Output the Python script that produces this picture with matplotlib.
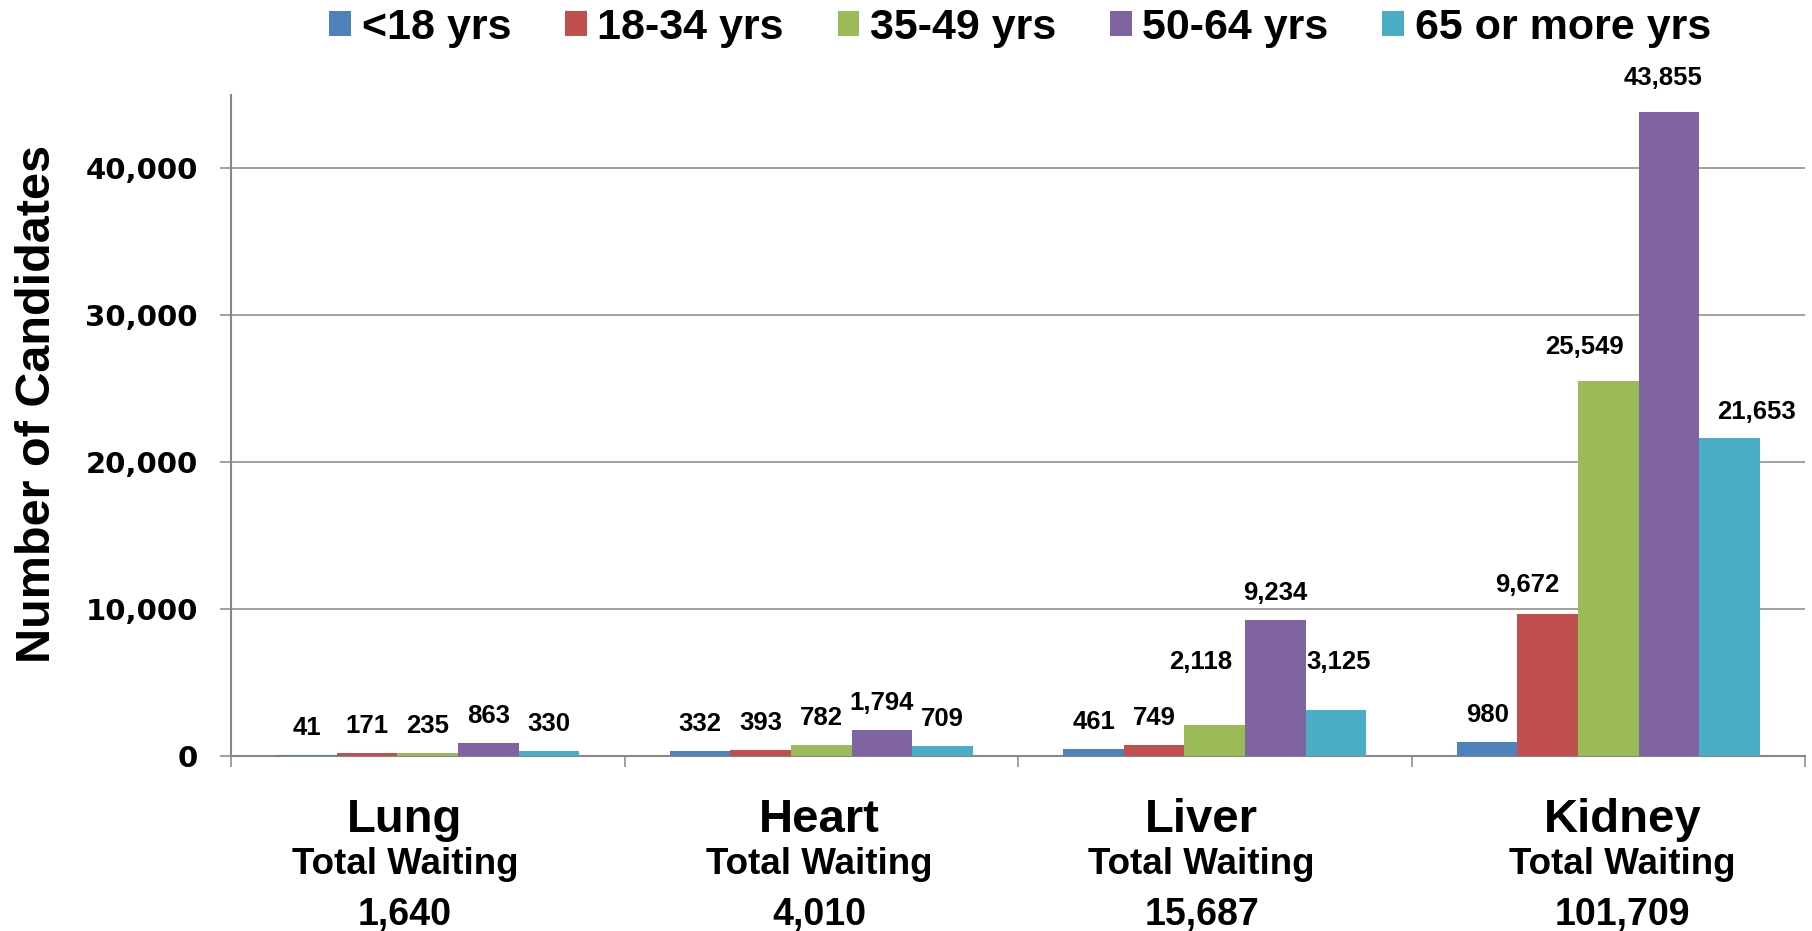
import numpy as np
import matplotlib
matplotlib.use("Agg")
import matplotlib.pyplot as plt

plt.rcParams['font.family'] = ['Liberation Sans', 'DejaVu Sans']
plt.rcParams['font.weight'] = 'bold'

# Daten
organs = ["Lung", "Heart", "Liver", "Kidney"]
age_groups = ["<18 yrs", "18-34 yrs", "35-49 yrs", "50-64 yrs", "65 or more yrs"]
under_18 = [41, 332, 461, 980]
age_18_34 = [171, 393, 749, 9672]
age_35_49 = [235, 782, 2118, 25549]
age_50_64 = [863, 1794, 9234, 43855]
age_65_up = [330, 709, 3125, 21653]
y_ticks = [0, 10000, 20000, 30000, 40000]

series = [under_18, age_18_34, age_35_49, age_50_64, age_65_up]
colors = ["#4F81BD", "#C0504D", "#9BBB59", "#8064A2", "#4BACC6"]
grid_col = "#878787"

# value labels moved by hand in the original: (organ, series) -> (dx, dy) in pixels
nudges = {(2, 2): (-14, 36), (2, 4): (3, 21), (3, 1): (-20, 2),
          (3, 2): (-24, 7), (3, 3): (-6, 7), (3, 4): (27, -1)}
# horizontal shift of the category captions, pixels
caption_dx = [-23, -2, -13, 14]

px = 72 / 100  # pixels -> points

fig = plt.figure(figsize=(18.12, 9.31), dpi=100)
ax = fig.add_axes([231 / 1812, 1 - 756 / 931, (1805 - 231) / 1812, (756 - 95) / 931])

x = np.arange(len(organs))
w = 1 / 6.5
for i, (name, vals, col) in enumerate(zip(age_groups, series, colors)):
    pos = x + (i - 2) * w
    ax.bar(pos, vals, w, color=col, label=name, zorder=3)
    for j, (p, v) in enumerate(zip(pos, vals)):
        dx, dy = nudges.get((j, i), (0, 0))
        ax.annotate(f"{v:,}", (p, v), xytext=(dx * px, (20 + dy) * px), textcoords="offset points",
                    ha="center", va="baseline", fontsize=18.5, fontweight="bold",
                    annotation_clip=False)

ax.set_xlim(-0.5, 3.5)
ax.set_ylim(0, 45000)
ax.set_yticks(y_ticks)
ax.set_yticklabels([f"{t:,}" for t in y_ticks], family="DejaVu Sans", fontweight="bold", fontsize=21)
ax.yaxis.grid(True, color=grid_col, lw=1.1, zorder=0)
ax.set_axisbelow(True)
ax.tick_params(axis="y", direction="out", length=8, width=1.1, color=grid_col, pad=16)

ax.set_xticks(x)
ax.set_xticklabels([])
ax.tick_params(axis="x", which="major", length=0)
ax.set_xticks(np.arange(-0.5, 4), minor=True)
ax.tick_params(axis="x", which="minor", direction="out", length=8, width=1.1, color=grid_col)

for s in ["top", "right"]:
    ax.spines[s].set_visible(False)
for s in ["left", "bottom"]:
    ax.spines[s].set_color(grid_col)
    ax.spines[s].set_linewidth(1.5)

# category captions below the axis
tr = ax.get_xaxis_transform()
h = 661.0
cat_w = 1574 / 4
for j, organ in enumerate(organs):
    total = sum(s[j] for s in series)
    cx = j + caption_dx[j] / cat_w
    ax.text(cx, -76 / h, organ, transform=tr, ha="center", va="baseline", fontsize=34, fontweight="bold")
    ax.text(cx, -118 / h, "Total Waiting", transform=tr, ha="center", va="baseline", fontsize=26.5, fontweight="bold")
    ax.text(cx, -169 / h, f"{total:,}", transform=tr, ha="center", va="baseline", fontsize=27, fontweight="bold")

fig.text(38 / 1812, 1 - 404 / 931, "Number of Candidates", rotation=90, ha="center", va="center",
         fontsize=35, fontweight="bold")

fig.legend(loc="center", bbox_to_anchor=(0.563, 0.970), ncol=5, frameon=False,
           prop=dict(weight="bold", size=31), handlelength=0.5, handleheight=0.52,
           handletextpad=0.25, columnspacing=1.25, borderpad=0)

fig.savefig("out.png", dpi=100)
